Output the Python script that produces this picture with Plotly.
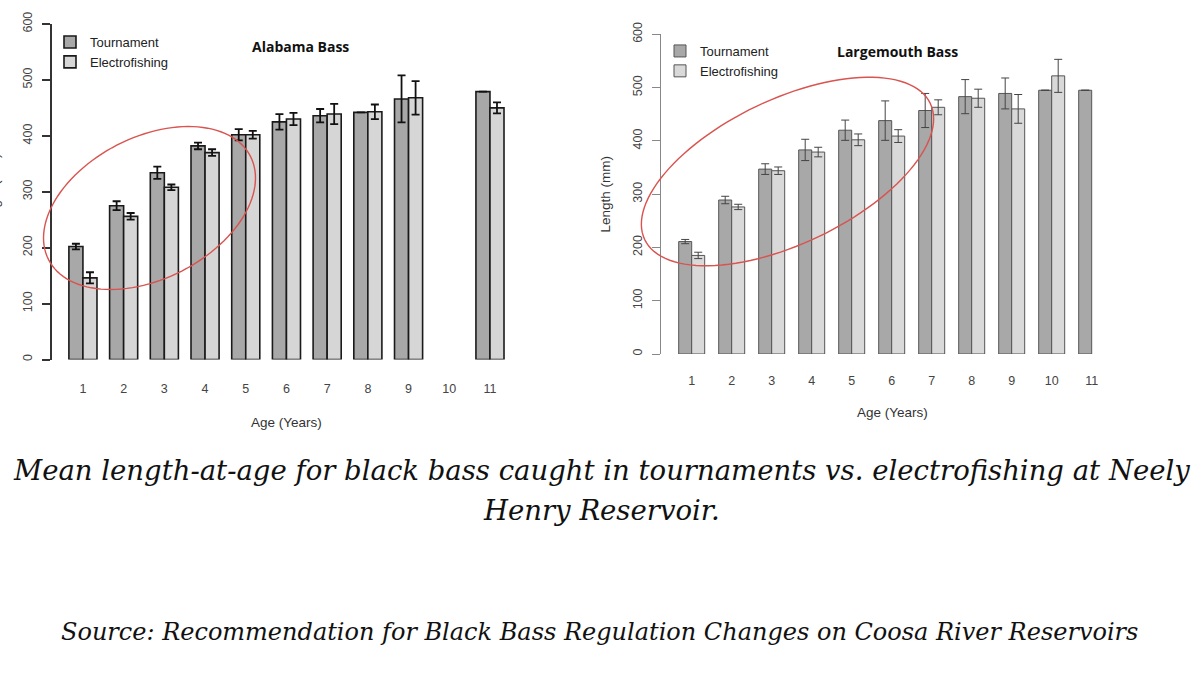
import math
import plotly.graph_objects as go

W, H = 1200, 675

# ---------------- data ----------------
ages = [1, 2, 3, 4, 5, 6, 7, 8, 9, 10, 11]
age_labels = ["1", "2", "3", "4", "5", "6", "7", "8", "9", "10", "11"]
y_ticks = [0, 100, 200, 300, 400, 500, 600]

# Alabama Bass (mean length mm, +/- error)
ab_tournament = [202, 275, 334, 382, 402, 425, 436, 442, 466, None, 479]
ab_tournament_err = [5, 8, 11, 6, 10, 14, 12, 0, 42, None, 0]
ab_electro = [146, 256, 308, 370, 402, 430, 439, 443, 468, None, 450]
ab_electro_err = [10, 6, 5, 6, 7, 11, 18, 13, 30, None, 10]

# Largemouth Bass
lm_tournament = [211, 289, 347, 383, 420, 438, 457, 483, 489, 495, 495]
lm_tournament_err = [4, 7, 10, 20, 19, 37, 32, 32, 29, 0, 0]
lm_electro = [185, 276, 344, 379, 402, 409, 463, 480, 460, 522, None]
lm_electro_err = [6, 5, 7, 9, 11, 12, 14, 17, 27, 31, None]

series_names = ["Tournament", "Electrofishing"]
chart_titles = ["Alabama Bass", "Largemouth Bass"]
x_title = "Age (Years)"
y_title = "Length (mm)"
caption_lines = [
    "Mean length-at-age for black bass caught in tournaments vs. electrofishing at Neely",
    "Henry Reservoir.",
]
source_text = "Source: Recommendation for Black Bass Regulation Changes on Coosa River Reservoirs"

# ---------------- helpers ----------------
def px(x):
    return x / W

def py(y):
    return 1 - y / H

def ellipse_path(cx, cy, a, b, phi_deg, n=120):
    phi = math.radians(phi_deg)
    pts = []
    for i in range(n + 1):
        t = 2 * math.pi * i / n
        x = cx + a * math.cos(t) * math.cos(phi) + b * math.sin(t) * math.sin(phi)
        y = cy - a * math.cos(t) * math.sin(phi) + b * math.sin(t) * math.cos(phi)
        pts.append((px(x), py(y)))
    return "M " + " L ".join(f"{x:.5f},{y:.5f}" for x, y in pts) + " Z"

SANS = "Liberation Sans, Arial, sans-serif"
DARK_FILL = "#a8a8a8"
LIGHT_FILL = "#d6d6d6"

fig = go.Figure()

# Left chart (Alabama Bass)
lw = 0.345
fig.add_trace(go.Bar(
    x=ages, y=ab_tournament, name=series_names[0], width=lw, offset=-lw,
    marker=dict(color=DARK_FILL, line=dict(color="#1a1a1a", width=1.6)),
    error_y=dict(type="data", array=ab_tournament_err, color="#111", thickness=1.8, width=4),
    xaxis="x", yaxis="y", legend="legend", cliponaxis=False,
))
fig.add_trace(go.Bar(
    x=ages, y=ab_electro, name=series_names[1], width=lw, offset=0,
    marker=dict(color=LIGHT_FILL, line=dict(color="#1a1a1a", width=1.6)),
    error_y=dict(type="data", array=ab_electro_err, color="#111", thickness=1.8, width=4),
    xaxis="x", yaxis="y", legend="legend", cliponaxis=False,
))

# Right chart (Largemouth Bass)
rw = 0.325
fig.add_trace(go.Bar(
    x=ages, y=lm_tournament, name=series_names[0], width=rw, offset=-rw,
    marker=dict(color=DARK_FILL, line=dict(color="#555", width=1)),
    error_y=dict(type="data", array=lm_tournament_err, color="#444", thickness=1, width=4),
    xaxis="x2", yaxis="y2", legend="legend2", cliponaxis=False,
))
fig.add_trace(go.Bar(
    x=ages, y=lm_electro, name=series_names[1], width=rw, offset=0,
    marker=dict(color="#d9d9d9", line=dict(color="#555", width=1)),
    error_y=dict(type="data", array=lm_electro_err, color="#444", thickness=1, width=4),
    xaxis="x2", yaxis="y2", legend="legend2", cliponaxis=False,
))

def yaxis_cfg(domain, anchor, linecolor, linewidth):
    return dict(
        domain=domain, anchor=anchor, range=[0, 600], tickvals=y_ticks,
        tickangle=-90, ticks="outside", ticklen=8, tickwidth=linewidth,
        tickcolor=linecolor, showline=True, linecolor=linecolor, linewidth=linewidth,
        showgrid=False, zeroline=False, ticklabelstandoff=5, automargin=False,
        tickfont=dict(family=SANS, size=12.5, color="#444"),
    )

def xaxis_cfg(domain, anchor, rng, standoff):
    return dict(
        domain=domain, anchor=anchor, range=rng, tickvals=ages, ticktext=age_labels,
        showline=False, ticks="", showgrid=False, zeroline=False, automargin=False,
        ticklabelstandoff=standoff, tickfont=dict(family=SANS, size=12.5, color="#444"),
    )

L_x0, L_x1, L_ytop, L_ybot = 52, 520.5, 24, 359.5
R_x0, R_x1, R_ytop, R_ybot = 661, 1121.7, 34.3, 354

fig.update_layout(
    width=W, height=H, margin=dict(l=0, r=0, t=0, b=0, autoexpand=False),
    paper_bgcolor="white", plot_bgcolor="white", showlegend=True,
    xaxis=xaxis_cfg([px(L_x0), px(L_x1)], "y", [0.24, 11.75], 20),
    yaxis=yaxis_cfg([py(L_ybot), py(L_ytop)], "x", "#333", 1.8),
    xaxis2=xaxis_cfg([px(R_x0), px(R_x1)], "y2", [0.2325, 11.75], 17),
    yaxis2=yaxis_cfg([py(R_ybot), py(R_ytop)], "x2", "#888", 1),
    legend=dict(x=px(50), y=py(27), xanchor="left", yanchor="top",
                bgcolor="rgba(0,0,0,0)", font=dict(family=SANS, size=13, color="#222"),
                tracegroupgap=0, itemclick=False),
    legend2=dict(x=px(660), y=py(36), xanchor="left", yanchor="top",
                 bgcolor="rgba(0,0,0,0)", font=dict(family=SANS, size=13, color="#222"),
                 tracegroupgap=0, itemclick=False),
)

def text_ann(text, x, y, font, angle=0):
    return dict(text=text, x=px(x), y=py(y), xref="paper", yref="paper", showarrow=False,
                xanchor="center", yanchor="middle", textangle=angle, font=font)

title_font = dict(family="Open Sans, sans-serif", size=14, color="#111")
axis_font = dict(family=SANS, size=13.5, color="#333")
serif_font = dict(family="DejaVu Serif, serif", size=27.5, color="#111")

ann = [
    text_ann(f"<b>{chart_titles[0]}</b>", 300, 47, title_font),
    text_ann(f"<b>{chart_titles[1]}</b>", 897, 52, title_font),
    text_ann(x_title, 286, 422, axis_font),
    text_ann(x_title, 892, 412, axis_font),
    text_ann(y_title, -6, 192, axis_font, -90),
    text_ann(y_title, 605, 194.5, axis_font, -90),
    text_ann(f"<i>{caption_lines[0]}</i>", 601, 470, serif_font),
    text_ann(f"<i>{caption_lines[1]}</i>", 601, 510, serif_font),
    text_ann(f"<i>{source_text}</i>", 599, 632, dict(family="DejaVu Serif, serif", size=24, color="#111")),
]
fig.update_layout(annotations=ann)

fig.update_layout(shapes=[
    dict(type="path", xref="paper", yref="paper", path=ellipse_path(149.5, 208, 113.4, 70.8, 27.1),
         line=dict(color="#d9534f", width=1.4), fillcolor="rgba(0,0,0,0)", layer="above"),
    dict(type="path", xref="paper", yref="paper", path=ellipse_path(787.5, 171.5, 158.2, 72.2, 25.5),
         line=dict(color="#d9534f", width=1.4), fillcolor="rgba(0,0,0,0)", layer="above"),
])

fig.write_html("out.html", config={"displayModeBar": False},
               post_script="document.body.style.margin='0px';")
